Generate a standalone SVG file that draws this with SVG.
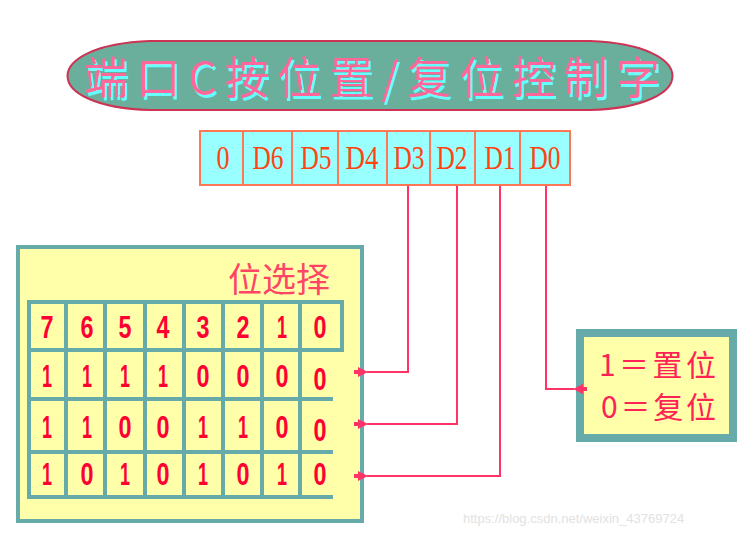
<svg xmlns="http://www.w3.org/2000/svg" width="744" height="537" viewBox="0 0 744 537">
<style>
.cjk{font-family:"Noto Sans CJK SC","Liberation Sans",sans-serif}
.reg{fill:#99ffff;stroke:#ff7755;stroke-width:2}
.regt{font-family:"Liberation Serif",serif;font-size:33px;fill:#ff4411;text-anchor:middle}
.dig{font-family:"Liberation Sans",sans-serif;font-weight:bold;font-size:31px;fill:#ff0033;text-anchor:middle}
.grid{stroke:#66aaaa;stroke-width:4;fill:none}
.wire{stroke:#ff3366;stroke-width:2;fill:none}
</style>
<defs>
<marker id="ah" viewBox="0 0 14 10" refX="1" refY="5" markerWidth="14" markerHeight="10" markerUnits="userSpaceOnUse" orient="auto-start-reverse">
<path d="M0,5 L10,0 L10,3 L14,3 L14,7 L10,7 L10,10 Z" fill="#ff3366"/>
</marker>
<filter id="shadow" x="-5%" y="-20%" width="110%" height="150%">
<feOffset in="SourceAlpha" dx="2" dy="3" result="o"/>
<feFlood flood-color="#66ffff"/>
<feComposite in2="o" operator="in" result="s"/>
<feMerge><feMergeNode in="s"/><feMergeNode in="SourceGraphic"/></feMerge>
</filter>
</defs>
<rect width="744" height="537" fill="#ffffff"/>
<g id="title">
<path d="M150,41 L590,41 C700,45 700,107 590,110 L150,110 C40,107 40,45 150,41 Z" fill="#6aaf9c" stroke="#cc3355" stroke-width="2"/>
<text x="84" y="94" class="cjk" font-size="44" fill="#ff6699" textLength="576" lengthAdjust="spacing" filter="url(#shadow)">端口C按位置/复位控制字</text>
</g>
<g id="register">
<rect class="reg" x="200" y="131" width="43" height="54"/>
<rect class="reg" x="243" y="131" width="49" height="54"/>
<rect class="reg" x="292" y="131" width="46" height="54"/>
<rect class="reg" x="338" y="131" width="49" height="54"/>
<rect class="reg" x="387" y="131" width="43" height="54"/>
<rect class="reg" x="430" y="131" width="45" height="54"/>
<rect class="reg" x="475" y="131" width="45" height="54"/>
<rect class="reg" x="520" y="131" width="50" height="54"/>
<text class="regt" x="223" y="169" textLength="13" lengthAdjust="spacingAndGlyphs">0</text>
<text class="regt" x="268" y="169" textLength="31" lengthAdjust="spacingAndGlyphs">D6</text>
<text class="regt" x="316" y="169" textLength="31" lengthAdjust="spacingAndGlyphs">D5</text>
<text class="regt" x="362" y="169" textLength="33" lengthAdjust="spacingAndGlyphs">D4</text>
<text class="regt" x="409" y="169" textLength="31" lengthAdjust="spacingAndGlyphs">D3</text>
<text class="regt" x="452" y="169" textLength="31" lengthAdjust="spacingAndGlyphs">D2</text>
<text class="regt" x="500" y="169" textLength="31" lengthAdjust="spacingAndGlyphs">D1</text>
<text class="regt" x="545" y="169" textLength="31" lengthAdjust="spacingAndGlyphs">D0</text>
</g>
<g id="bitselect">
<rect x="18" y="247" width="344" height="274" fill="#ffffaa" stroke="#66aaaa" stroke-width="4"/>
<text x="228" y="292" class="cjk" font-size="34" fill="#ff4466">位选择</text>
<rect x="29" y="302" width="313" height="48" fill="#ffffaa" class="grid"/>
<path class="grid" d="M29,350 L29,497 L333,497 M29,399 L333,399 M29,452 L333,452 M66,302 V497 M105,302 V497 M145,302 V497 M184,302 V497 M223,302 V497 M262,302 V497 M300,302 V497"/>
<g class="dig">
<text x="47" y="338" textLength="13" lengthAdjust="spacingAndGlyphs">7</text><text x="87" y="338" textLength="13" lengthAdjust="spacingAndGlyphs">6</text><text x="125" y="338" textLength="13" lengthAdjust="spacingAndGlyphs">5</text><text x="163" y="338" textLength="13" lengthAdjust="spacingAndGlyphs">4</text><text x="203" y="338" textLength="13" lengthAdjust="spacingAndGlyphs">3</text><text x="243" y="338" textLength="13" lengthAdjust="spacingAndGlyphs">2</text><text x="282" y="338" textLength="10" lengthAdjust="spacingAndGlyphs">1</text><text x="320" y="338" textLength="13" lengthAdjust="spacingAndGlyphs">0</text>
<text x="47" y="387" textLength="10" lengthAdjust="spacingAndGlyphs">1</text><text x="87" y="387" textLength="10" lengthAdjust="spacingAndGlyphs">1</text><text x="125" y="387" textLength="10" lengthAdjust="spacingAndGlyphs">1</text><text x="163" y="387" textLength="10" lengthAdjust="spacingAndGlyphs">1</text><text x="203" y="387" textLength="13" lengthAdjust="spacingAndGlyphs">0</text><text x="243" y="387" textLength="13" lengthAdjust="spacingAndGlyphs">0</text><text x="282" y="387" textLength="13" lengthAdjust="spacingAndGlyphs">0</text><text x="320" y="390" textLength="13" lengthAdjust="spacingAndGlyphs">0</text>
<text x="47" y="438" textLength="10" lengthAdjust="spacingAndGlyphs">1</text><text x="87" y="438" textLength="10" lengthAdjust="spacingAndGlyphs">1</text><text x="125" y="438" textLength="13" lengthAdjust="spacingAndGlyphs">0</text><text x="163" y="438" textLength="13" lengthAdjust="spacingAndGlyphs">0</text><text x="203" y="438" textLength="10" lengthAdjust="spacingAndGlyphs">1</text><text x="243" y="438" textLength="10" lengthAdjust="spacingAndGlyphs">1</text><text x="282" y="438" textLength="13" lengthAdjust="spacingAndGlyphs">0</text><text x="320" y="441" textLength="13" lengthAdjust="spacingAndGlyphs">0</text>
<text x="47" y="485" textLength="10" lengthAdjust="spacingAndGlyphs">1</text><text x="87" y="485" textLength="13" lengthAdjust="spacingAndGlyphs">0</text><text x="125" y="485" textLength="10" lengthAdjust="spacingAndGlyphs">1</text><text x="163" y="485" textLength="13" lengthAdjust="spacingAndGlyphs">0</text><text x="203" y="485" textLength="10" lengthAdjust="spacingAndGlyphs">1</text><text x="243" y="485" textLength="13" lengthAdjust="spacingAndGlyphs">0</text><text x="282" y="485" textLength="10" lengthAdjust="spacingAndGlyphs">1</text><text x="320" y="485" textLength="13" lengthAdjust="spacingAndGlyphs">0</text>
</g>
</g>
<g id="setreset">
<rect x="580" y="333" width="153" height="105" fill="#ffffaa" stroke="#66aaaa" stroke-width="8"/>
<text x="599" y="376" class="cjk" font-size="30" fill="#ff2255" textLength="117" lengthAdjust="spacing">1＝置位</text>
<text x="601" y="418" class="cjk" font-size="30" fill="#ff2255" textLength="115" lengthAdjust="spacing">0＝复位</text>
</g>
<g id="connectors">
<path class="wire" d="M408,186 V372 H367" marker-end="url(#ah)"/>
<path class="wire" d="M457,186 V424 H367" marker-end="url(#ah)"/>
<path class="wire" d="M500,186 V476 H367" marker-end="url(#ah)"/>
<path class="wire" d="M546,186 V389 H574" marker-end="url(#ah)"/>
</g>
<text x="463" y="523" font-family="Liberation Sans,sans-serif" font-size="13" fill="#e2e2e2">https://blog.csdn.net/weixin_43769724</text>
</svg>
